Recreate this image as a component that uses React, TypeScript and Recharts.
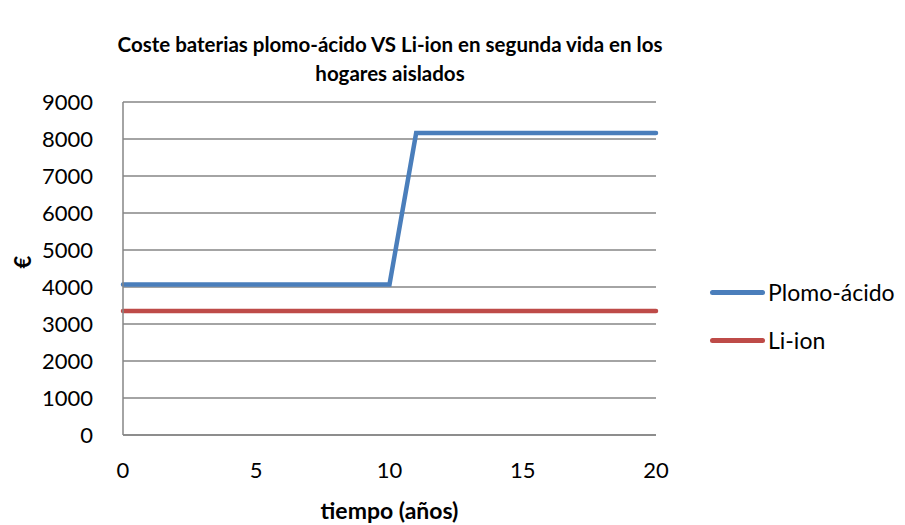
import { LineChart, Line, XAxis, YAxis, CartesianGrid } from "recharts";

const years = [0, 1, 2, 3, 4, 5, 6, 7, 8, 9, 10, 11, 12, 13, 14, 15, 16, 17, 18, 19, 20];
const plomoAcido = [4070, 4070, 4070, 4070, 4070, 4070, 4070, 4070, 4070, 4070, 4070, 8160, 8160, 8160, 8160, 8160, 8160, 8160, 8160, 8160, 8160];
const liIon = [3350, 3350, 3350, 3350, 3350, 3350, 3350, 3350, 3350, 3350, 3350, 3350, 3350, 3350, 3350, 3350, 3350, 3350, 3350, 3350, 3350];
const xTicks = [0, 5, 10, 15, 20];
const yTicks = [0, 1000, 2000, 3000, 4000, 5000, 6000, 7000, 8000, 9000];

const data = years.map((y, i) => ({ year: y, plomo: plomoAcido[i], li: liIon[i] }));

const FONT = "Lato, 'Open Sans', sans-serif";
const BLUE = "#4a7ebb";
const RED = "#be4b48";

const legendItems = [
    { name: "Plomo-ácido", color: BLUE },
    { name: "Li-ion", color: RED },
];

function LegendBox() {
    return (
        <div style={{ position: "absolute", left: 710, top: 268, fontFamily: FONT, fontSize: 23, color: "#000" }}>
            {legendItems.map((it) => (
                <div key={it.name} style={{ display: "flex", alignItems: "center", height: 48 }}>
                    <div style={{ width: 55, height: 5, borderRadius: 3, background: it.color, marginRight: 3 }} />
                    <span>{it.name}</span>
                </div>
            ))}
        </div>
    );
}

export default function App() {
    return (
        <div style={{ position: "absolute", left: 0, top: 0, width: 905, height: 525, background: "#fff" }}>
            <div style={{ position: "absolute", left: 0, width: 780, top: 30, textAlign: "center", fontFamily: FONT, fontWeight: "bold", fontSize: 20.5, lineHeight: "29px" }}>
                Coste baterias plomo-ácido VS Li-ion en segunda vida en los
                <br />
                hogares aislados
            </div>
            <LineChart width={905} height={525} data={data} margin={{ top: 102, right: 249, left: 63, bottom: 30 }}>
                <CartesianGrid stroke="#868686" strokeWidth={1.5} vertical={false} />
                <XAxis
                    dataKey="year"
                    type="number"
                    domain={[0, 20]}
                    ticks={xTicks}
                    height={60}
                    tickLine={false}
                    axisLine={{ stroke: "#868686", strokeWidth: 1.5 }}
                    tick={{ fill: "#000", fontSize: 22, fontFamily: FONT, dy: 19 }}
                    label={{ value: "tiempo (años)", position: "insideBottom", offset: -24, fill: "#000", fontSize: 23, fontWeight: "bold", fontFamily: FONT }}
                />
                <YAxis
                    domain={[0, 9000]}
                    ticks={yTicks}
                    width={60}
                    interval={0}
                    tickLine={false}
                    axisLine={{ stroke: "#868686", strokeWidth: 1.5 }}
                    tick={{ fill: "#000", fontSize: 22, fontFamily: FONT, dx: -22 }}
                    label={{ value: "€", angle: -90, position: "insideLeft", offset: -40, fill: "#000", fontSize: 22, fontWeight: "bold", fontFamily: FONT }}
                />
                <Line type="linear" dataKey="plomo" name="Plomo-ácido" stroke={BLUE} strokeWidth={4.5} strokeLinecap="round" dot={false} isAnimationActive={false} />
                <Line type="linear" dataKey="li" name="Li-ion" stroke={RED} strokeWidth={4.5} strokeLinecap="round" dot={false} isAnimationActive={false} />
            </LineChart>
            <LegendBox />
        </div>
    );
}
